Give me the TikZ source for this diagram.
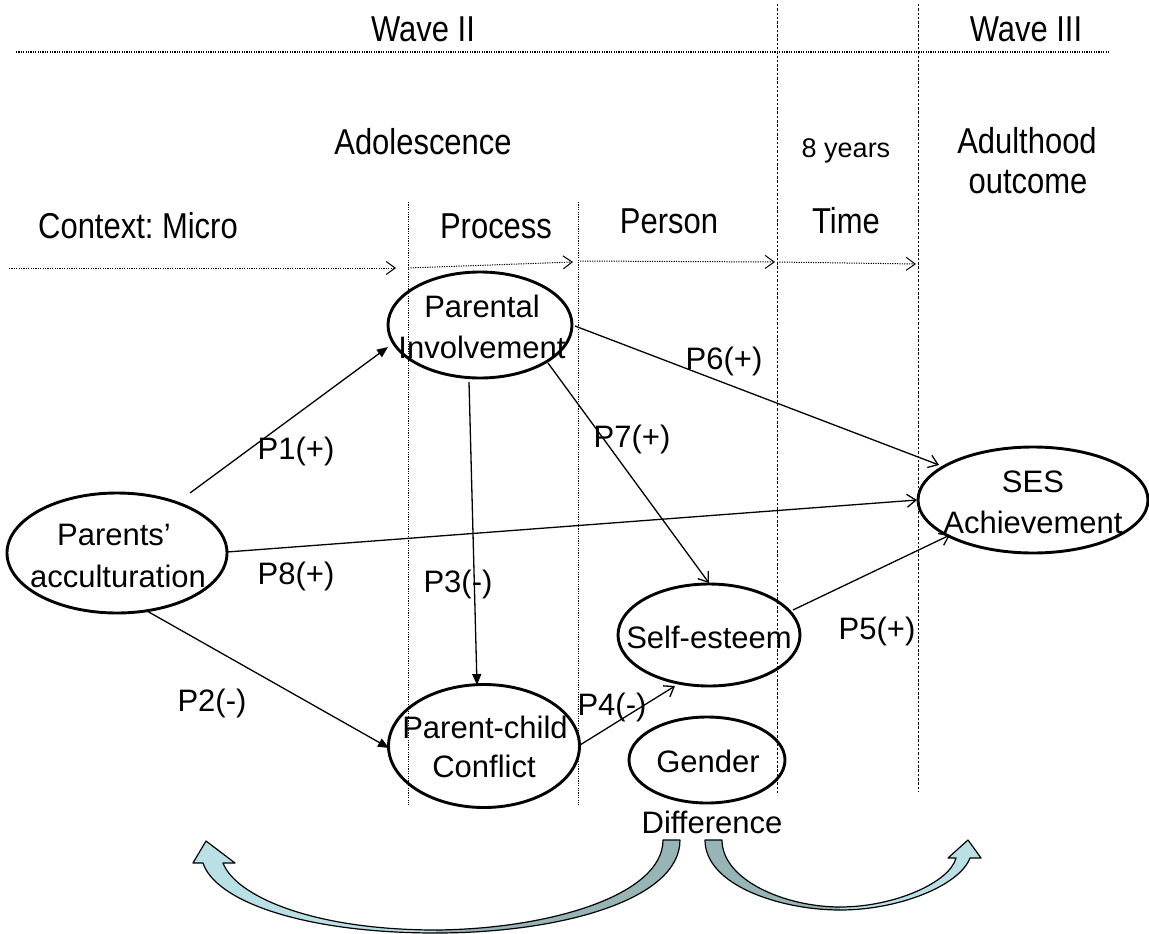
\documentclass[tikz,border=0pt]{standalone}
\usepackage{fontspec}
\setmainfont{Liberation Sans}
\newfontfamily\condfont[FakeStretch=0.86]{Liberation Sans}
\usetikzlibrary{arrows.meta,calc,shapes.geometric}
\definecolor{lightband}{HTML}{B9E0E4}
\definecolor{darkband}{HTML}{97B5B6}
\frenchspacing
\begin{document}
\begin{tikzpicture}[x=1pt,y=-1pt,
  ell/.style={draw, line width=2.9pt, ellipse, inner sep=0pt},
  txt/.style={font=\fontsize{31}{38}\selectfont, inner sep=0pt, anchor=base},
  headtxt/.style={font=\condfont\fontsize{36}{42}\selectfont, inner sep=0pt, anchor=base},
  smalltxt/.style={font=\fontsize{27}{32}\selectfont, inner sep=0pt, anchor=base},
  lab/.style={font=\fontsize{31}{38}\selectfont, inner sep=0pt},
  con/.style={line width=1.3pt, -{Straight Barb[length=9pt,width=13pt]}},
  fcon/.style={line width=1.3pt, -{Triangle[length=11pt,width=9pt]}},
  dotl/.style={line width=1pt, dash pattern=on 1.2pt off 1.2pt},
  dotarrow/.style={dotl, -{Straight Barb[length=9pt,width=13pt]}},
  vdash/.style={line width=0.9pt, dash pattern=on 2.5pt off 1.8pt},
  band/.style={draw=black, line width=1.2pt, line join=round}
]
\fill[white] (0,0) rectangle (1149,934);
\useasboundingbox (0,0) rectangle (1149,934);

% header lines
\coordinate (hl0) at (16,52);
\coordinate (hl1) at (1109,52);
\draw[line width=1.3pt, dash pattern=on 1.2pt off 1.2pt] (hl0) -- (hl1);
\coordinate (v1t) at (777,4);  \coordinate (v1b) at (777,795);
\coordinate (v2t) at (918,4);  \coordinate (v2b) at (918,792);
\coordinate (v3t) at (408,202); \coordinate (v3b) at (408,805);
\coordinate (v4t) at (578,202); \coordinate (v4b) at (578,805);
\draw[vdash] (v1t) -- (v1b);
\draw[vdash] (v2t) -- (v2b);
\draw[dotl] (v3t) -- (v3b);
\draw[dotl] (v4t) -- (v4b);

% dotted time arrows
\coordinate (a0) at (9,268);   \coordinate (a1) at (396,268);
\coordinate (b0) at (408,268); \coordinate (b1) at (573,262);
\coordinate (c0) at (580,261); \coordinate (c1) at (775,262);
\coordinate (d0) at (777,262); \coordinate (d1) at (916,264);
\draw[dotarrow] (a0) -- (a1);
\draw[dotarrow] (b0) -- (b1);
\draw[dotarrow] (c0) -- (c1);
\draw[dotarrow] (d0) -- (d1);

% header texts
\node[headtxt] (w2) at (423,42) {Wave II};
\node[headtxt] (w3) at (1026,42) {Wave III};
\node[headtxt] (ado) at (423,154) {Adolescence};
\node[smalltxt] (yrs) at (846,157) {8 years};
\node[headtxt] (adu1) at (1027,153) {Adulthood};
\node[headtxt] (adu2) at (1028,193) {outcome};
\node[headtxt] (ctx) at (138,238) {Context: Micro};
\node[headtxt] (proc) at (496,238) {Process};
\node[headtxt] (pers) at (669,233) {Person};
\node[headtxt] (time) at (846,233) {Time};

% ellipses
\node[ell, minimum width=220pt, minimum height=120pt] (pa) at (117,553) {};
\node[ell, minimum width=184pt, minimum height=106pt] (pi) at (480,325) {};
\node[ell, minimum width=191pt, minimum height=123pt] (pc) at (484,746) {};
\node[ell, minimum width=182pt, minimum height=102pt] (se) at (709,635) {};
\node[ell, minimum width=156pt, minimum height=86pt] (gd) at (707,760) {};
\node[ell, minimum width=230pt, minimum height=106pt] (ses) at (1033,500) {};

% ellipse texts
\node[txt] (pat1) at (114,545) {Parents’};
\node[txt] (pat2) at (118,587) {acculturation};
\node[txt] (pit1) at (482,317) {Parental};
\node[txt] (pit2) at (482,358) {Involvement};
\node[txt] (pct1) at (485,738) {Parent-child};
\node[txt] (pct2) at (484,777) {Conflict};
\node[txt] (set) at (709,648) {Self-esteem};
\node[txt] (gdt) at (708,772) {Gender};
\node[txt] (dif) at (712,833) {Difference};
\node[txt] (sest1) at (1033,492) {SES};
\node[txt] (sest2) at (1033,533) {Achievement};

% connectors
\draw[fcon] ($(pa)+(73,-60)$) -- ($(pi)+(-92,22)$);
\draw[fcon] ($(pa)+(30,58)$) -- ($(pc)+(-95,2)$);
\draw[con]  ($(pa)+(110,-1)$) -- ($(ses)+(-116,0)$);
\draw[fcon] ($(pi)+(-11,57)$) -- ($(pc)+(-7,-61)$);
\draw[con]  ($(pi)+(95,1)$) -- ($(ses)+(-94,-35)$);
\draw[con]  ($(pi)+(68,38)$) -- ($(se)+(0,-52)$);
\draw[con]  ($(pc)+(96,-1)$) -- ($(se)+(-34,51)$);
\draw[con]  ($(se)+(84,-25)$) -- ($(ses)+(-83,35)$);

% path labels
\node[lab] (l1) at (296,451) {P1(+)};
\node[lab] (l2) at (212,703) {P2(-)};
\node[lab] (l3) at (458,584) {P3(-)};
\node[lab] (l4) at (612,707) {P4(-)};
\node[lab] (l5) at (877,631) {P5(+)};
\node[lab] (l6) at (724,361) {P6(+)};
\node[lab] (l7) at (632,439) {P7(+)};
\node[lab] (l8) at (296,576) {P8(+)};

% left curved arrow
\fill[lightband] (436,933) .. controls (300,933) and (215,900) .. (203,863) -- (193,863) -- (206,841) -- (235,863) -- (223,863) .. controls (235,895) and (310,930) .. (436,930) -- cycle;
\fill[darkband] (436,930) .. controls (550,929) and (663,895) .. (663,840) -- (680,840) .. controls (680,900) and (560,933) .. (436,933) -- cycle;
\draw[band] (680,840) .. controls (680,900) and (560,933) .. (436,933) .. controls (300,933) and (215,900) .. (203,863) -- (193,863) -- (206,841) -- (235,863) -- (223,863) .. controls (235,895) and (310,930) .. (436,930) .. controls (550,929) and (663,895) .. (663,840) -- cycle;

% right curved arrow
\fill[darkband] (705,840) -- (722,840) .. controls (722,880) and (785,907) .. (840,907) -- (840,910) .. controls (780,910) and (705,885) .. (705,840) -- cycle;
\fill[lightband] (840,907) .. controls (895,907) and (950,882) .. (956,858) -- (948,858) -- (968,840) -- (981,858) -- (970,858) .. controls (960,885) and (900,910) .. (840,910) -- cycle;
\draw[band] (705,840) -- (722,840) .. controls (722,880) and (785,907) .. (840,907) .. controls (895,907) and (950,882) .. (956,858) -- (948,858) -- (968,840) -- (981,858) -- (970,858) .. controls (960,885) and (900,910) .. (840,910) .. controls (780,910) and (705,885) .. (705,840) -- cycle;
\end{tikzpicture}
\end{document}
